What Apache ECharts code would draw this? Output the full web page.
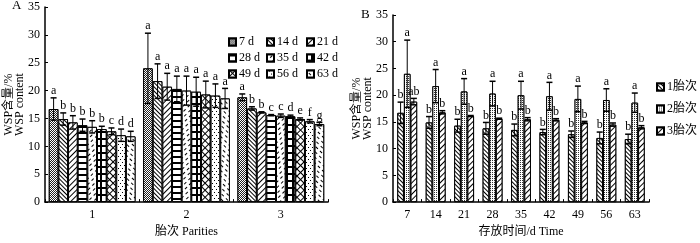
<!DOCTYPE html>
<html>
<head>
<meta charset="utf-8">
<script src="https://cdn.jsdelivr.net/npm/echarts@6/dist/echarts.min.js"></script>
<style>
html, body { margin: 0; padding: 0; background: #fff; }
#main { width: 700px; height: 243px; }
</style>
</head>
<body>
<div id="main"></div>
<script>
// storage days and parities
var days = ['7', '14', '21', '28', '35', '42', '49', '56', '63'];
var dayNames = ['7 d', '14 d', '21 d', '28 d', '35 d', '42 d', '49 d', '56 d', '63 d'];
var parities = ['1', '2', '3'];
var parityNames = ['1胎次', '2胎次', '3胎次'];

// WSP content (%) by day, one array per parity
var mean1 = [16.7, 14.9, 14.3, 13.8, 13.5, 13.1, 12.7, 12.0, 11.8];
var mean2 = [24.0, 21.7, 20.7, 20.3, 20.0, 19.8, 19.3, 19.1, 18.6];
var mean3 = [18.8, 16.8, 16.1, 15.6, 15.5, 15.4, 14.9, 14.5, 14.0];
var err1 = [2.0, 1.1, 1.2, 1.1, 1.1, 0.5, 0.6, 1.1, 0.9];
var err2 = [6.3, 3.1, 2.4, 2.3, 2.6, 2.6, 2.4, 2.1, 1.8];
var err3 = [0.6, 0.3, 0.1, 0.1, 0.3, 0.2, 0.2, 0.3, 0.3];

// significance letters, panel A (days within a parity)
var lettersA1 = ['a', 'b', 'b', 'b', 'b', 'b', 'c', 'd', 'd'];
var lettersA2 = ['a', 'a', 'a', 'a', 'a', 'a', 'a', 'a', 'a'];
var lettersA3 = ['a', 'b', 'b', 'c', 'c', 'd', 'e', 'f', 'g'];
// panel B (parities within a day)
var lettersB1 = ['b', 'b', 'b', 'b', 'b', 'b', 'b', 'b', 'b'];
var lettersB2 = ['a', 'a', 'a', 'a', 'a', 'a', 'a', 'a', 'a'];
var lettersB3 = ['ab', 'b', 'b', 'b', 'b', 'b', 'b', 'b', 'b'];

var yTicks = { min: 0, max: 35, interval: 5 };

var FONT = '"Liberation Serif", "Noto Sans CJK SC", serif';
var Q = Math.PI / 4;

// fill patterns
var patterns = {
  stipple: { color: '#222', backgroundColor: '#fff', dashArrayX: [[1, 1], [0, 1, 1, 0]], dashArrayY: [1, 0] },
  back: { color: '#000', backgroundColor: '#fff', dashArrayX: [1, 0], dashArrayY: [1, 2], rotation: Q },
  fwd: { color: '#000', backgroundColor: '#fff', dashArrayX: [1, 0], dashArrayY: [1, 2.2], rotation: -Q },
  horiz: { color: '#000', backgroundColor: '#fff', dashArrayX: [1, 0], dashArrayY: [1.5, 3.5] },
  dashBack: { color: '#000', backgroundColor: '#fff', dashArrayX: [[3, 3], [0, 3, 3, 0]], dashArrayY: [1, 2.5], rotation: -Q },
  grid: { color: '#fff', backgroundColor: '#000', dashArrayX: [3.6, 1.4], dashArrayY: [4.6, 1.4] },
  cross: { color: '#fff', backgroundColor: '#000', dashArrayX: [4, 1], dashArrayY: [4, 1], rotation: Q },
  dots: { color: '#000', backgroundColor: '#fff', dashArrayX: [[1, 3], [0, 2, 1, 1]], dashArrayY: [1, 2] },
  dashFwd: { color: '#000', backgroundColor: '#fff', dashArrayX: [[3, 3], [0, 3, 3, 0]], dashArrayY: [1, 2.5], rotation: Q },
  dotsB: { color: '#333', backgroundColor: '#fff', dashArrayX: [1, 1], dashArrayY: [1, 1] }
};
var dayPatterns = ['stipple', 'back', 'fwd', 'horiz', 'dashBack', 'grid', 'cross', 'dots', 'dashFwd'];
var parityPatterns = ['back', 'dotsB', 'fwd'];

var gapA = 0.08, gapB = 0.3;

function errSeries(gridIdx, n, idx, gap, means, errs, labels) {
  return {
    type: 'custom',
    xAxisIndex: gridIdx,
    yAxisIndex: gridIdx,
    z: 10,
    silent: true,
    data: means.map(function (m, i) { return [i, m, errs[i]]; }),
    renderItem: function (params, api) {
      var c = api.value(0), m = api.value(1), e = api.value(2);
      var band = api.size([1, 0])[0];
      var total = band * (1 - gap);
      var bw = total / n;
      var x = api.coord([c, 0])[0] - total / 2 + (idx + 0.5) * bw;
      var yt = api.coord([c, m + e])[1];
      var yb = api.coord([c, m - e])[1];
      var cw = 3;
      return {
        type: 'group',
        children: [
          { type: 'line', shape: { x1: x, y1: yt, x2: x, y2: yb }, style: { stroke: '#000', lineWidth: 1 } },
          { type: 'line', shape: { x1: x - cw, y1: yt, x2: x + cw, y2: yt }, style: { stroke: '#000', lineWidth: 1.5 } },
          { type: 'line', shape: { x1: x - cw, y1: yb, x2: x + cw, y2: yb }, style: { stroke: '#000', lineWidth: 1.5 } },
          { type: 'text', style: { text: labels[params.dataIndex], x: x, y: yt - 1, align: 'center', verticalAlign: 'bottom', font: '12px ' + FONT, fill: '#000' } }
        ]
      };
    }
  };
}

function barStyle(p) {
  return { color: '#fff', borderColor: '#000', borderWidth: 1, decal: patterns[p] };
}

var series = [];
// panel A: one series per day, grouped by parity
days.forEach(function (d, i) {
  series.push({
    name: dayNames[i],
    type: 'bar',
    xAxisIndex: 0,
    yAxisIndex: 0,
    barGap: 0,
    barCategoryGap: (gapA * 100) + '%',
    itemStyle: barStyle(dayPatterns[i]),
    data: [mean1[i], mean2[i], mean3[i]]
  });
});
days.forEach(function (d, i) {
  series.push(errSeries(0, 9, i, gapA, [mean1[i], mean2[i], mean3[i]], [err1[i], err2[i], err3[i]], [lettersA1[i], lettersA2[i], lettersA3[i]]));
});
// panel B: one series per parity, grouped by day
var meansB = [mean1, mean2, mean3];
var errsB = [err1, err2, err3];
var lettersB = [lettersB1, lettersB2, lettersB3];
parities.forEach(function (p, k) {
  series.push({
    name: parityNames[k],
    type: 'bar',
    xAxisIndex: 1,
    yAxisIndex: 1,
    barGap: 0,
    barCategoryGap: (gapB * 100) + '%',
    itemStyle: barStyle(parityPatterns[k]),
    data: meansB[k]
  });
});
parities.forEach(function (p, k) {
  series.push(errSeries(1, 3, k, gapB, meansB[k], errsB[k], lettersB[k]));
});

var axisLine = { show: true, lineStyle: { color: '#000', width: 1.5 } };
var axisTick = { show: true, inside: true, length: 3, lineStyle: { color: '#000', width: 1 } };
var axisLabel = { color: '#000', fontFamily: FONT, fontSize: 12 };
var nameStyle = { color: '#000', fontFamily: FONT, fontSize: 12 };

function xAx(gridIdx, cats, name) {
  return {
    type: 'category', gridIndex: gridIdx, data: cats,
    axisLine: axisLine, axisTick: axisTick, axisLabel: Object.assign({ margin: 7 }, axisLabel),
    name: name, nameLocation: 'middle', nameGap: 22, nameTextStyle: nameStyle
  };
}
function yAx(gridIdx) {
  return {
    type: 'value', gridIndex: gridIdx, min: yTicks.min, max: yTicks.max, interval: yTicks.interval,
    splitLine: { show: false },
    axisLine: axisLine, axisTick: axisTick, axisLabel: Object.assign({ margin: 5 }, axisLabel),
    name: 'WSP含量/%\nWSP content', nameLocation: 'middle', nameRotate: 90, nameGap: 20,
    nameMoveOverlap: false,
    nameTextStyle: Object.assign({}, nameStyle, { fontSize: 12, lineHeight: 11 })
  };
}

// legends: panel A as 3x3 block, panel B vertical
var legends = [];
var colX = [228, 266, 306];
var rowY = [36, 52, 68];
dayNames.forEach(function (nm, i) {
  legends.push({
    data: [nm], left: colX[i % 3], top: rowY[Math.floor(i / 3)],
    padding: 0, itemWidth: 7, itemHeight: 7, icon: 'rect', selectedMode: false,
    textStyle: { color: '#000', fontFamily: FONT, fontSize: 12, padding: [0, 0, 0, -2] }
  });
});
legends.push({
  data: parityNames, orient: 'vertical', left: 656, top: 81, itemGap: 10,
  padding: 0, itemWidth: 7, itemHeight: 7, icon: 'rect', selectedMode: false,
  textStyle: { color: '#000', fontFamily: FONT, fontSize: 12, padding: [0, 0, 0, -2] }
});

var chart = echarts.init(document.getElementById('main'), null, { renderer: 'canvas' });
chart.setOption({
  animation: false,
  backgroundColor: '#fff',
  grid: [
    { left: 45, right: 372, top: 7, bottom: 36 },
    { left: 393, right: 51, top: 15, bottom: 34 }
  ],
  xAxis: [xAx(0, parities, '胎次 Parities'), xAx(1, days, '存放时间/d Time')],
  yAxis: [yAx(0), yAx(1)],
  legend: legends,
  graphic: [
    { type: 'text', left: 12, top: -1, style: { text: 'A', font: '13px ' + FONT, fill: '#000' } },
    { type: 'text', left: 361, top: 8, style: { text: 'B', font: '13px ' + FONT, fill: '#000' } }
  ],
  series: series
});
</script>
</body>
</html>
